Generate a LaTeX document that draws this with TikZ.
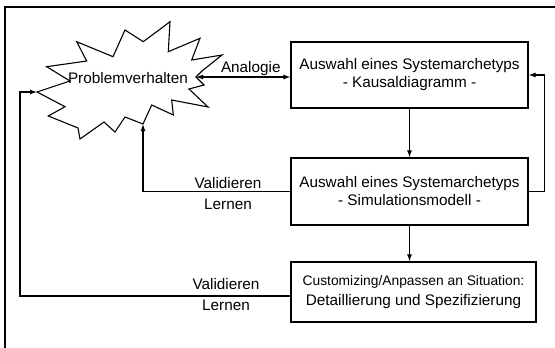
\documentclass[tikz,border=0pt]{standalone}
\usepackage{fontspec}
\setmainfont{Liberation Sans}
\usetikzlibrary{positioning, arrows.meta}

\begin{document}
\begin{tikzpicture}[
  x=1pt, y=-1pt,
  >={Latex[length=7pt,width=5pt]},
  arr/.style={->, line width=1.2pt},
  box/.style={draw, line width=1.1pt, align=center, inner sep=0pt, font=\fontsize{15.3}{18}\selectfont},
  lbl/.style={font=\fontsize{15.3}{18}\selectfont, inner sep=0pt}
]
  \useasboundingbox (0,0) rectangle (555,348);

  % --- Rahmen ---
  \draw[line width=1.2pt] (5,348) -- (5,7) -- (555,7);

  % --- Explosion: Problemverhalten ---
  \draw[line width=1.1pt, fill=white]
    (46.7,66.7) -- (86.7,61) -- (76.7,41.7) -- (113,56.7) -- (125,30) -- (143.3,41.7)
    -- (170,21.7) -- (168.3,51.7) -- (200,38.3) -- (191.7,60) -- (222,55) -- (202,71)
    -- (196,77) -- (204,85) -- (189,89) -- (208,107) -- (171.7,100) -- (173.3,115)
    -- (151.7,105) -- (143,124) -- (125,117) -- (115,132) -- (104,122) -- (80,139)
    -- (78,128) -- (48.3,116) -- (65,106.7) -- (37,92) -- (70,81) -- cycle;
  \node[lbl] (problem) at (128,78) {Problemverhalten};
  \coordinate (tipR) at (196,77);
  \coordinate (tipB) at (143,124);
  \coordinate (tipL) at (37,92);
  \coordinate (leftbend) at (20,92);

  % --- Boxen ---
  \node[box, minimum width=237pt, minimum height=66pt] (kausal) at (409.5,75)
    {Auswahl eines Systemarchetyps\\- Kausaldiagramm -};
  \node[box, minimum width=237pt, minimum height=67pt] (simul) at (409.5,191.5)
    {Auswahl eines Systemarchetyps\\- Simulationsmodell -};
  \node[box, minimum width=245pt, minimum height=60pt] (custom) at (413.5,292)
    {{\fontsize{13.8}{18}\selectfont Customizing/Anpassen an Situation:}\\[2pt]Detaillierung und Spezifizierung};

  % --- Pfeile ---
  \draw[<->, line width=1.2pt] (tipR) -- node[lbl, above=0.5pt, pos=.58] (analogie) {Analogie} (tipR -| kausal.west);
  \draw[arr] (kausal.south) -- (simul.north);
  \draw[arr] (simul.south) -- (simul.south |- custom.north);
  \draw[arr] (simul.east) -- ++(16,0) |- (kausal.east);
  \draw[arr] (simul.west) -| (tipB);
  \draw[arr] ([yshift=-4pt]custom.west) -| (leftbend) -- (tipL);

  % --- Beschriftungen ---
  \node[lbl] (valid1) at (228,183) {Validieren};
  \node[lbl] (lern1) at (228,204) {Lernen};
  \node[lbl] (valid2) at (226,284) {Validieren};
  \node[lbl] (lern2) at (226,305) {Lernen};
\end{tikzpicture}
\end{document}
